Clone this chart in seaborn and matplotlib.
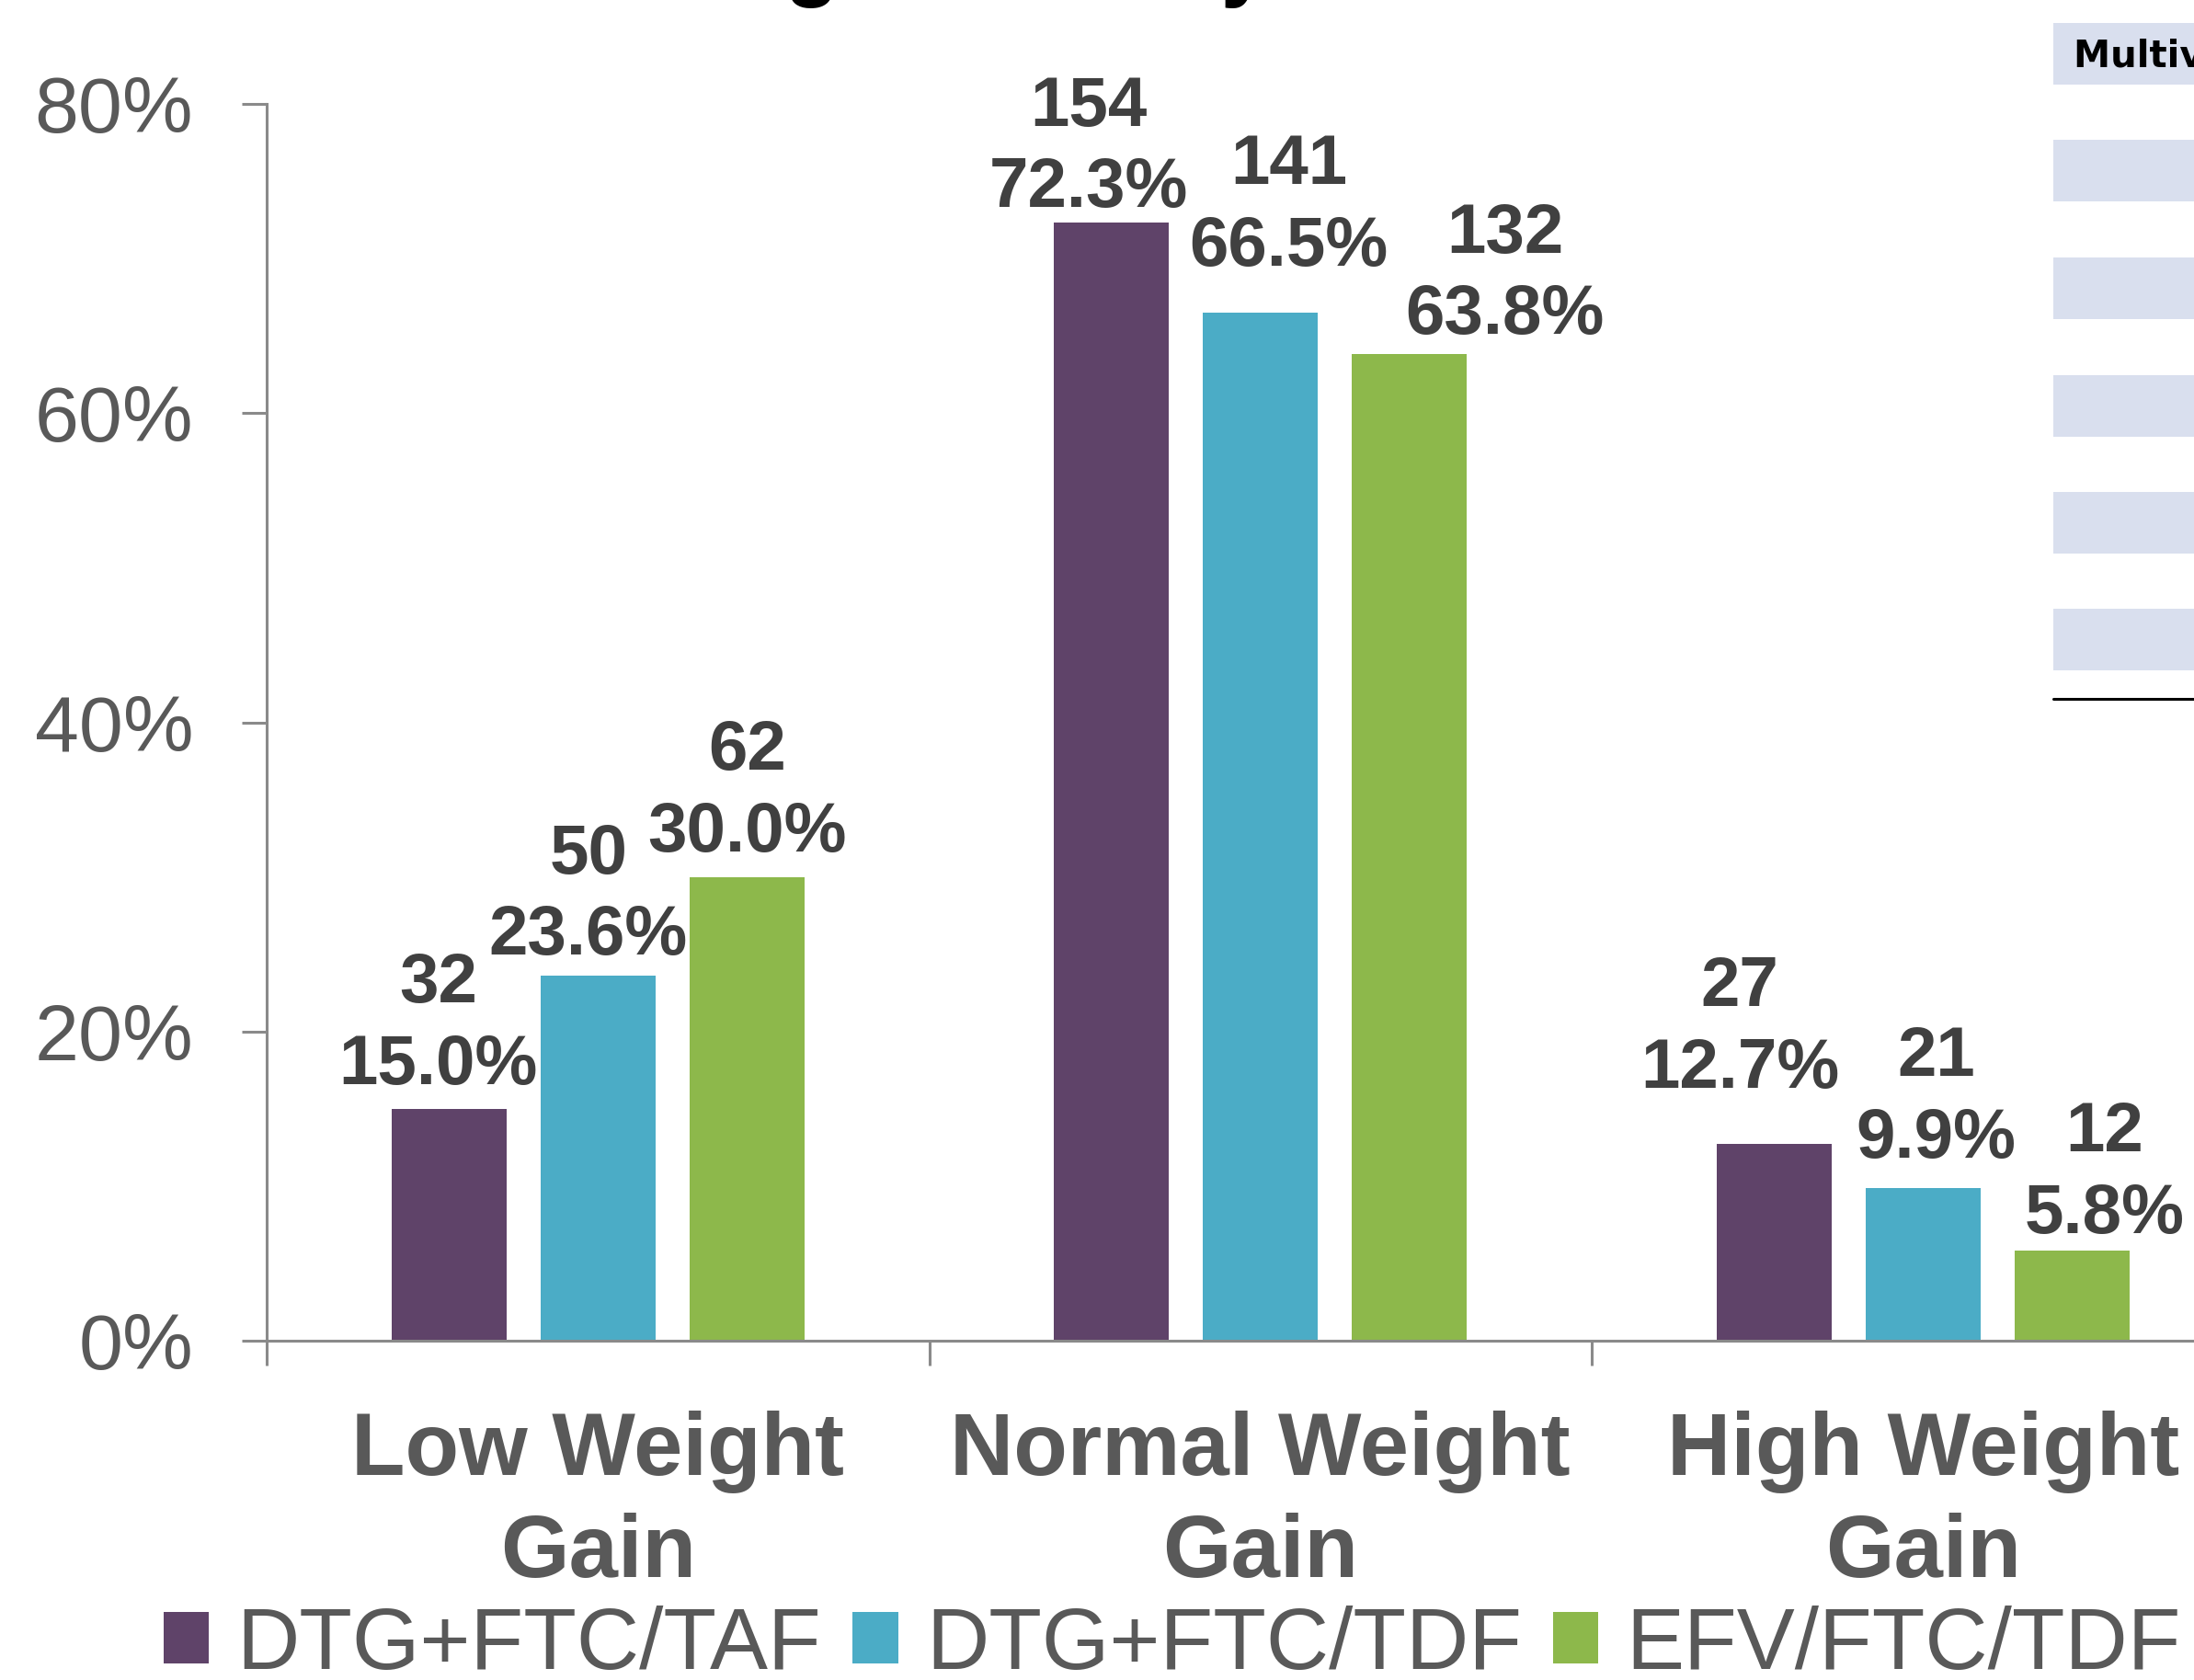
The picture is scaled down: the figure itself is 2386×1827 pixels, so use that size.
import matplotlib
matplotlib.use("Agg")
import matplotlib.pyplot as plt
from matplotlib.patches import Patch, Rectangle
from matplotlib.ticker import FixedLocator
import seaborn as sns
import pandas as pd

# ---- data -------------------------------------------------------------
categories = ["Low Weight\nGain", "Normal Weight\nGain", "High Weight\nGain"]
arms = ["DTG+FTC/TAF", "DTG+FTC/TDF", "EFV/FTC/TDF"]
# percentage of participants in each weight-gain category, per arm
pct_taf = [15.0, 72.3, 12.7]
pct_dtg_tdf = [23.6, 66.5, 9.9]
pct_efv = [30.0, 63.8, 5.8]
# participant counts
n_taf = [32, 154, 27]
n_dtg_tdf = [50, 141, 21]
n_efv = [62, 132, 12]
y_ticks = [0, 20, 40, 60, 80]
y_tick_labels = ["0%", "20%", "40%", "60%", "80%"]

colors = ["#5F4369", "#4BACC6", "#8DB84B"]

# hand placement of the value labels (pixels): sideways shift and gap above bar
label_dx_px = [[-11.5, -24.5, -37], [-10.5, 31, 14], [0, 104, 35]]
label_gap_px = [[27, 17, 62], [23, 51, 33], [28, 22, 20]]

rows = []
for arm, pcts, ns in zip(arms, [pct_taf, pct_dtg_tdf, pct_efv], [n_taf, n_dtg_tdf, n_efv]):
    for cat, p, n in zip(categories, pcts, ns):
        rows.append({"category": cat, "arm": arm, "pct": p, "n": n})
df = pd.DataFrame(rows)

# ---- style ------------------------------------------------------------
sns.set_theme(style="white")
plt.rcParams["font.family"] = ["Liberation Sans", "DejaVu Sans"]

W, H = 2386, 1827
DPI = 100
PX2PT = 72 / DPI
fig = plt.figure(figsize=(W / DPI, H / DPI), dpi=DPI)
fig.patch.set_facecolor("white")

# axes spans three category slots; the last one runs past the right edge
left_px, bottom_px, top_px, slot_px = 290, 1458, 113, 720.5
ax = fig.add_axes([left_px / W, 1 - bottom_px / H,
                   3 * slot_px / W, (bottom_px - top_px) / H])

sns.barplot(data=df, x="category", y="pct", hue="arm", hue_order=arms,
            order=categories, palette=colors, saturation=1, width=0.675,
            gap=0.23, linewidth=0, ax=ax, legend=False)

ax.set_xlim(-0.5, 2.5)
ax.set_ylim(0, 80)
ax.set_xlabel("")
ax.set_ylabel("")

# value labels: count over percentage
label_color = "#404040"
label_size = 55
descent_px = 0.21 * label_size / PX2PT
for container, ns, pcts, dxs, gaps in zip(ax.containers,
                                          [n_taf, n_dtg_tdf, n_efv],
                                          [pct_taf, pct_dtg_tdf, pct_efv],
                                          label_dx_px, label_gap_px):
    for rect, n, p, dx, gap in zip(container.patches, ns, pcts, dxs, gaps):
        xc = rect.get_x() + rect.get_width() / 2
        ax.annotate(f"{n}\n{p:.1f}%", xy=(xc, rect.get_height()),
                    xytext=(dx * PX2PT, (gap - descent_px) * PX2PT),
                    textcoords="offset points", ha="center", va="bottom",
                    fontsize=label_size, fontweight="bold", color=label_color,
                    linespacing=1.32, annotation_clip=False)

# axes styling
spine_color = "#8A8A8A"
for side in ["top", "right"]:
    ax.spines[side].set_visible(False)
for side in ["left", "bottom"]:
    ax.spines[side].set_color(spine_color)
    ax.spines[side].set_linewidth(2.2)

ax.set_yticks(y_ticks)
ax.set_yticklabels(y_tick_labels)
ax.tick_params(axis="y", which="major", direction="out", length=19.4, width=2.2,
               color=spine_color, labelsize=62, labelcolor="#595959", pad=38,
               left=True)

ax.set_xticks(range(len(categories)))
ax.set_xticklabels(categories, fontsize=69, fontweight="bold", color="#595959",
                   linespacing=1.29)
ax.tick_params(axis="x", which="major", length=0, pad=55, bottom=True)
ax.xaxis.set_minor_locator(FixedLocator([-0.5, 0.5, 1.5, 2.5]))
ax.tick_params(axis="x", which="minor", direction="out", length=19.4, width=2.2,
               color=spine_color, bottom=True)
ax.grid(False)

# legend
handles = [Patch(facecolor=c, edgecolor="none") for c in colors]
fig.legend(handles, arms, loc="center", bbox_to_anchor=(1275 / W, 1 - 1790 / H),
           ncol=3, frameon=False, fontsize=68, labelcolor="#595959",
           handlelength=0.52, handleheight=0.52, handletextpad=0.32,
           columnspacing=0.36, borderpad=0, borderaxespad=0)

# title line above the plot
fig.text(685 / W, 1 + 11 / H, "Weight Gain by Arm", ha="left", va="baseline",
         fontsize=69, fontweight="bold", color="black")

# side table panel (shaded rows)
band_color = "#D9DFEE"
band_x = 2233
band_h = 67
band_tops = [25, 152, 280, 408, 535, 662]
for top in band_tops:
    fig.patches.append(Rectangle((band_x / W, 1 - (top + band_h) / H),
                                 (W - band_x) / W, band_h / H,
                                 transform=fig.transFigure, facecolor=band_color,
                                 edgecolor="none", zorder=0))
fig.add_artist(plt.Line2D([band_x / W, 1], [1 - 760 / H, 1 - 760 / H],
                          transform=fig.transFigure, color="black", linewidth=2.2))
fig.text(2255 / W, 1 - 73 / H, "Multivariable Analysis", ha="left", va="baseline",
         fontsize=29, fontweight="bold", color="black", family="DejaVu Sans")

fig.savefig("out.png", dpi=DPI, facecolor="white")
